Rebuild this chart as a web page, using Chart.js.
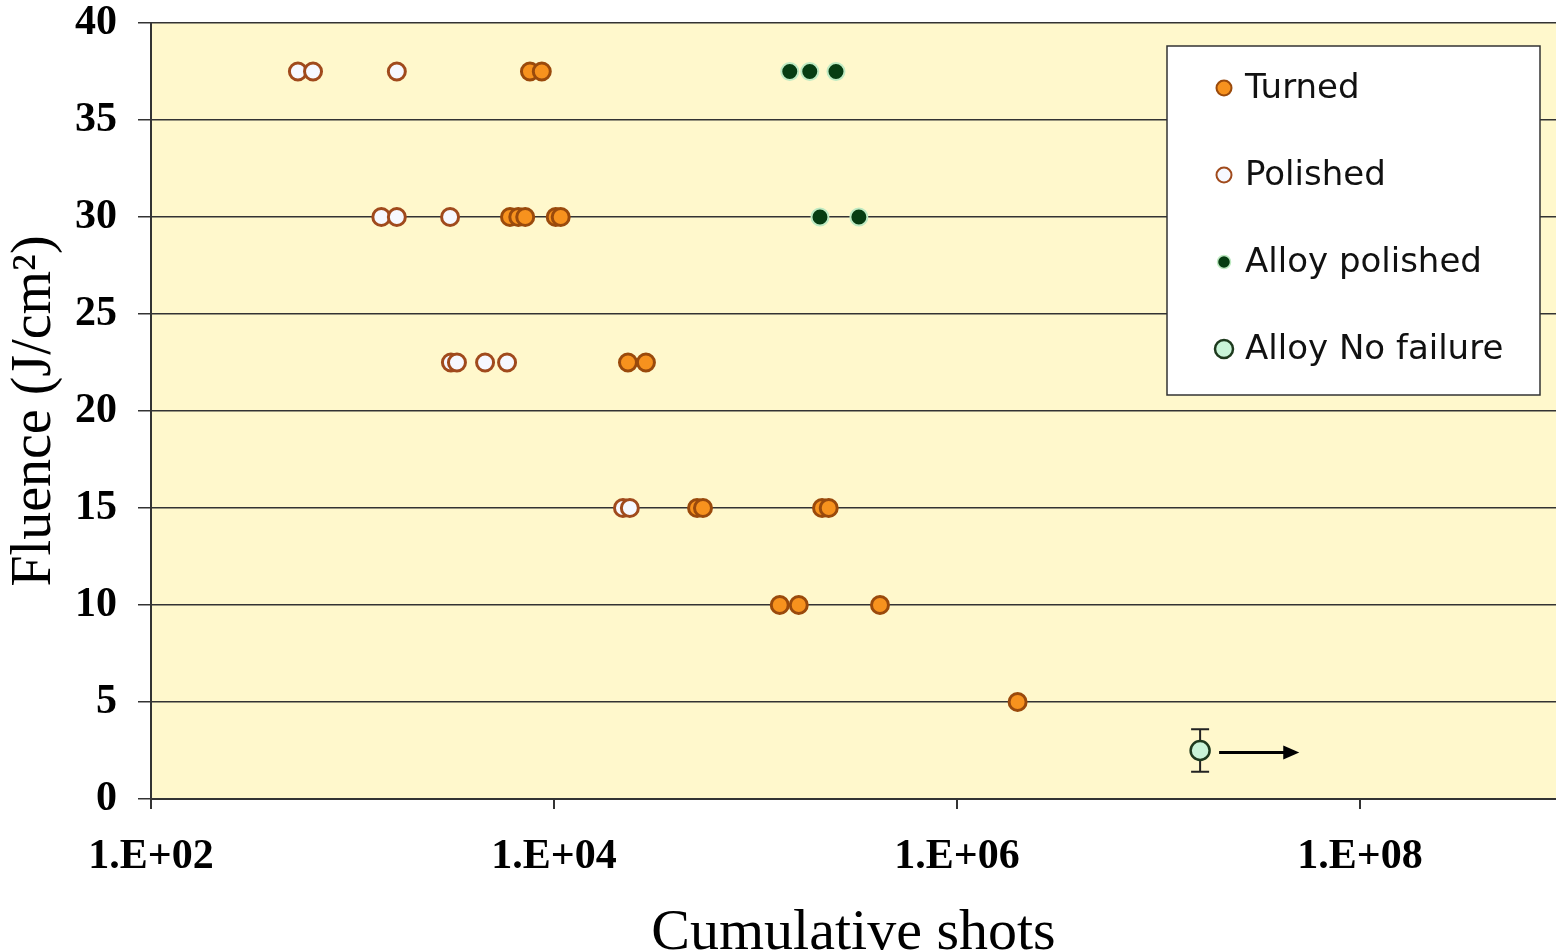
<!DOCTYPE html>
<html>
<head>
<meta charset="utf-8">
<script src="https://cdn.jsdelivr.net/npm/chart.js@4.4.1/dist/chart.umd.min.js"></script>
<style>
html, body { margin: 0; padding: 0; background: #fff; }
</style>
</head>
<body>
<canvas id="c" width="1556" height="951"></canvas>
<script>
// data (x = cumulative shots, y = fluence J/cm2)
var turnedShots   = [7600, 8700, 6050, 6650, 7200, 10200, 10800, 23300, 28600, 51300, 54900, 214000, 231000, 132000, 164000, 415000, 2000000];
var turnedFluence = [37.5, 37.5, 30, 30, 30, 30, 30, 22.5, 22.5, 15, 15, 15, 15, 10, 10, 10, 5];

var polishedShots   = [536, 637, 1660, 1390, 1660, 3050, 3080, 3300, 4550, 5850, 22000, 23800];
var polishedFluence = [37.5, 37.5, 37.5, 30, 30, 30, 22.5, 22.5, 22.5, 22.5, 15, 15];

var alloyShots   = [148000, 186000, 251000, 209000, 326000];
var alloyFluence = [37.5, 37.5, 37.5, 30, 30];

var noFailShots   = [16100000];
var noFailFluence = [2.5];
var noFailError   = [1.1];
var noFailArrowTo = [50000000];

var xTicks = [1e2, 1e4, 1e6, 1e8];
var xMin = 1e2, xMax = 9.4e8;
var yMin = 0, yMax = 40, yStep = 5;

function pts(xs, ys) {
    var out = [];
    for (var i = 0; i < xs.length; i++) out.push({x: xs[i], y: ys[i]});
    return out;
}

var serif = '"Liberation Serif", "Times New Roman", serif';
var sans = '"DejaVu Sans", Verdana, sans-serif';

var plotBg = {
    id: 'plotBg',
    beforeDraw(chart) {
        var a = chart.chartArea, ctx = chart.ctx;
        ctx.save();
        ctx.fillStyle = '#FFF8CC';
        ctx.fillRect(a.left, a.top, a.right - a.left, a.bottom - a.top);
        ctx.restore();
    }
};

// error bar + "no failure" arrow for the last series
var noFailMarks = {
    id: 'noFailMarks',
    beforeDatasetsDraw(chart) {
        var xs = chart.scales.x, ys = chart.scales.y, ctx = chart.ctx;
        ctx.save();
        ctx.strokeStyle = '#222';
        ctx.lineWidth = 2;
        for (var i = 0; i < noFailShots.length; i++) {
            var px = xs.getPixelForValue(noFailShots[i]);
            var top = ys.getPixelForValue(noFailFluence[i] + noFailError[i]);
            var bot = ys.getPixelForValue(noFailFluence[i] - noFailError[i]);
            ctx.beginPath();
            ctx.moveTo(px, top); ctx.lineTo(px, bot);
            ctx.moveTo(px - 9, top); ctx.lineTo(px + 9, top);
            ctx.moveTo(px - 9, bot); ctx.lineTo(px + 9, bot);
            ctx.stroke();
        }
        ctx.restore();
    },
    afterDatasetsDraw(chart) {
        var xs = chart.scales.x, ys = chart.scales.y, ctx = chart.ctx;
        ctx.save();
        ctx.strokeStyle = '#000';
        ctx.fillStyle = '#000';
        ctx.lineWidth = 3;
        for (var i = 0; i < noFailShots.length; i++) {
            var x0 = xs.getPixelForValue(noFailShots[i]) + 19;
            var x1 = xs.getPixelForValue(noFailArrowTo[i]);
            var y = ys.getPixelForValue(noFailFluence[i]) + 2;
            ctx.beginPath();
            ctx.moveTo(x0, y); ctx.lineTo(x1 - 14, y);
            ctx.stroke();
            ctx.beginPath();
            ctx.moveTo(x1, y); ctx.lineTo(x1 - 16, y - 7); ctx.lineTo(x1 - 16, y + 7);
            ctx.closePath();
            ctx.fill();
        }
        ctx.restore();
    }
};

// boxed legend inside the plot, top right
var boxLegend = {
    id: 'boxLegend',
    afterDraw(chart) {
        var ctx = chart.ctx;
        var bx = 1167, by = 46, bw = 373, bh = 349;
        ctx.save();
        ctx.fillStyle = '#fff';
        ctx.fillRect(bx, by, bw, bh);
        ctx.strokeStyle = '#333';
        ctx.lineWidth = 1.5;
        ctx.strokeRect(bx, by, bw, bh);
        ctx.font = '34px ' + sans;
        ctx.textBaseline = 'middle';
        chart.data.datasets.forEach(function (ds, i) {
            var cy = by + 42 + i * 87;
            ctx.beginPath();
            ctx.arc(bx + 57, cy, ds.legendRadius, 0, Math.PI * 2);
            ctx.fillStyle = ds.backgroundColor;
            ctx.fill();
            ctx.lineWidth = ds.legendBorder;
            ctx.strokeStyle = ds.borderColor;
            ctx.stroke();
            ctx.fillStyle = '#111';
            ctx.fillText(ds.label, bx + 78, cy + 1);
        });
        ctx.restore();
    }
};

var config = {
    type: 'scatter',
    data: {
        datasets: [
            {
                label: 'Turned',
                data: pts(turnedShots, turnedFluence),
                backgroundColor: '#F7921E',
                borderColor: '#9A4A0C',
                borderWidth: 3,
                pointRadius: 8.5,
                legendRadius: 7.5, legendBorder: 2
            },
            {
                label: 'Polished',
                data: pts(polishedShots, polishedFluence),
                backgroundColor: '#F6F8FF',
                borderColor: '#A04A1C',
                borderWidth: 3,
                pointRadius: 8.5,
                legendRadius: 7.5, legendBorder: 2
            },
            {
                label: 'Alloy polished',
                data: pts(alloyShots, alloyFluence),
                backgroundColor: '#073D12',
                borderColor: '#BFEAC2',
                borderWidth: 2,
                pointRadius: 8.5,
                legendRadius: 6.5, legendBorder: 1.5
            },
            {
                label: 'Alloy No failure',
                data: pts(noFailShots, noFailFluence),
                backgroundColor: '#C9F4D8',
                borderColor: '#1E3A1E',
                borderWidth: 2.5,
                pointRadius: 9.5,
                legendRadius: 9, legendBorder: 2.5
            }
        ]
    },
    options: {
        responsive: false,
        animation: false,
        layout: { autoPadding: false, padding: { top: 23, right: 0, left: 0, bottom: 0 } },
        plugins: {
            legend: { display: false },
            tooltip: { enabled: false }
        },
        scales: {
            x: {
                type: 'logarithmic',
                min: xMin,
                max: xMax,
                afterBuildTicks(scale) {
                    scale.ticks = xTicks.map(function (v) { return {value: v}; });
                },
                afterFit(scale) {
                    scale.height = 152;
                    scale.paddingLeft = 0; scale.paddingRight = 0;
                },
                ticks: {
                    autoSkip: false,
                    maxRotation: 0,
                    padding: 27,
                    color: '#000',
                    font: { family: serif, size: 42, weight: 'bold', lineHeight: 1 },
                    callback(v) {
                        var e = Math.round(Math.log10(v));
                        return '1.E+' + (e < 10 ? '0' + e : e);
                    }
                },
                grid: { drawOnChartArea: false, drawTicks: true, tickLength: 10, color: '#333', lineWidth: 2 },
                border: { color: '#333', width: 2 },
                title: {
                    display: true,
                    text: 'Cumulative shots',
                    color: '#000',
                    font: { family: serif, size: 58, lineHeight: 1 },
                    padding: { top: 0, bottom: -12 }
                }
            },
            y: {
                min: yMin,
                max: yMax,
                afterFit(scale) {
                    scale.width = 151;
                    scale.paddingTop = 0; scale.paddingBottom = 0;
                },
                ticks: {
                    stepSize: yStep,
                    padding: 21,
                    color: '#000',
                    font: { family: serif, size: 42, weight: 'bold', lineHeight: 1 }
                },
                grid: { color: '#333', lineWidth: 1.5, tickLength: 13 },
                border: { color: '#333', width: 2 },
                title: {
                    display: true,
                    text: 'Fluence (J/cm\u00B2)',
                    color: '#000',
                    font: { family: serif, size: 56, lineHeight: 1 },
                    padding: { top: 7, bottom: 0 }
                }
            }
        }
    },
    plugins: [plotBg, noFailMarks, boxLegend]
};

var chart = new Chart(document.getElementById('c'), config);
</script>
</body>
</html>
